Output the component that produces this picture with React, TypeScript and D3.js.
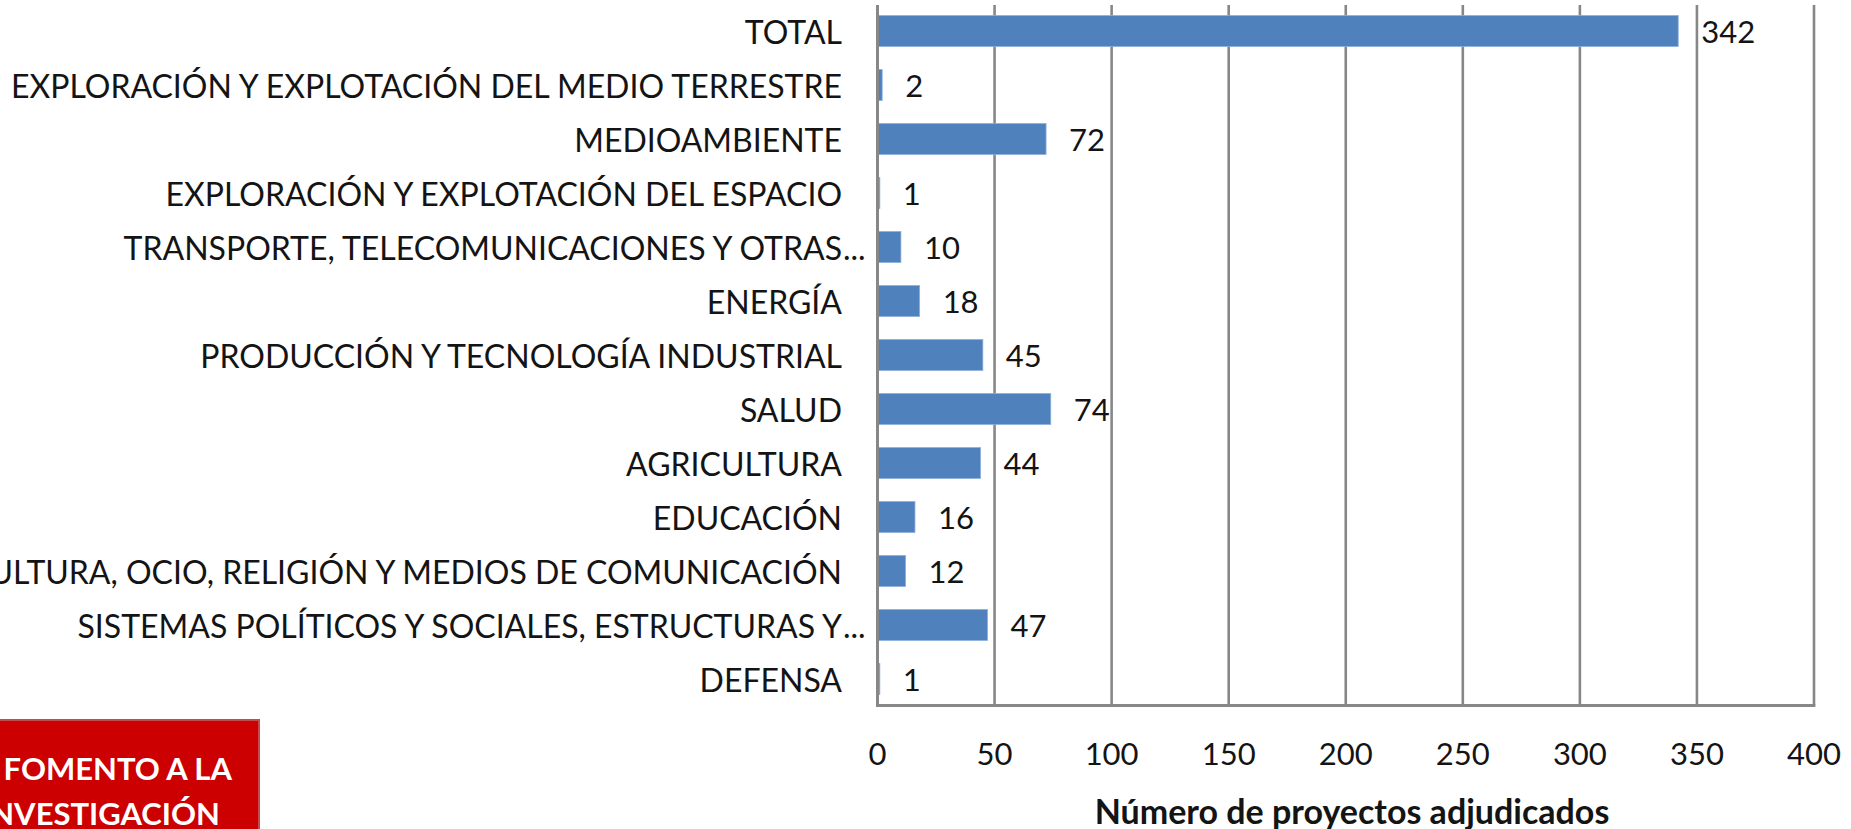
import React from "react";
import * as d3 from "d3";

const categories: string[] = [
  "TOTAL",
  "EXPLORACIÓN Y EXPLOTACIÓN DEL MEDIO TERRESTRE",
  "MEDIOAMBIENTE",
  "EXPLORACIÓN Y EXPLOTACIÓN DEL ESPACIO",
  "TRANSPORTE, TELECOMUNICACIONES Y OTRAS...",
  "ENERGÍA",
  "PRODUCCIÓN Y TECNOLOGÍA INDUSTRIAL",
  "SALUD",
  "AGRICULTURA",
  "EDUCACIÓN",
  "CULTURA, OCIO, RELIGIÓN Y MEDIOS DE COMUNICACIÓN",
  "SISTEMAS POLÍTICOS Y SOCIALES, ESTRUCTURAS Y...",
  "DEFENSA",
];
const values: number[] = [342, 2, 72, 1, 10, 18, 45, 74, 44, 16, 12, 47, 1];
const xTicks: number[] = [0, 50, 100, 150, 200, 250, 300, 350, 400];
const axisTitle = "Número de proyectos adjudicados";
const boxLines: string[] = ["FOMENTO A LA", "INVESTIGACIÓN"];

const W = 1851;
const H = 829;
const FONT = "Lato, 'Open Sans', sans-serif";

export default function App() {
  const x = d3.scaleLinear().domain([0, 400]).range([877.5, 1814]);
  const y = d3
    .scaleBand<string>()
    .domain(categories)
    .range([4, 706])
    .paddingInner(0.426)
    .paddingOuter(0.213);
  const labelRight = 842;
  const gridColor = "#878787";

  return (
    <svg
      width={W}
      height={H}
      style={{ position: "absolute", left: 0, top: 0, background: "#fff" }}
    >
      {/* gridlines */}
      {xTicks.slice(1).map((t) => (
        <line
          key={"g" + t}
          x1={x(t)}
          x2={x(t)}
          y1={5}
          y2={706}
          stroke={gridColor}
          strokeWidth={2.6}
        />
      ))}
      {/* bars */}
      {categories.map((c, i) => (
        <rect
          key={"b" + c}
          x={x(0)}
          y={y(c)}
          width={x(values[i]) - x(0)}
          height={y.bandwidth()}
          fill="#4f81bd"
          stroke="#8db0dc"
          strokeWidth={0.8}
        />
      ))}
      {/* axes */}
      <line x1={x(0)} x2={x(0)} y1={5} y2={707} stroke={gridColor} strokeWidth={3} />
      <line x1={x(0) - 1.5} x2={x(400) + 1.3} y1={705.5} y2={705.5} stroke={gridColor} strokeWidth={3} />
      {/* category labels */}
      {categories.map((c) => {
        const trunc = c.endsWith("...");
        const main = trunc ? c.slice(0, -3) : c;
        const cy = (y(c) as number) + y.bandwidth() / 2;
        return (
          <g key={"l" + c} fontFamily={FONT} fontSize={32} fill="#141414">
            <text x={labelRight} y={cy} textAnchor="end" dominantBaseline="central">
              {main}
            </text>
            {trunc && (
              <text x={labelRight + 1} y={cy} textAnchor="start" dominantBaseline="central">
                ...
              </text>
            )}
          </g>
        );
      })}
      {/* value labels */}
      {categories.map((c, i) => (
        <text
          key={"v" + c}
          x={x(values[i]) + 23}
          y={(y(c) as number) + y.bandwidth() / 2}
          fontFamily={FONT}
          fontSize={31}
          fill="#141414"
          dominantBaseline="central"
        >
          {values[i]}
        </text>
      ))}
      {/* tick labels */}
      {xTicks.map((t) => (
        <text
          key={"t" + t}
          x={x(t)}
          y={753}
          fontFamily={FONT}
          fontSize={31}
          fill="#141414"
          textAnchor="middle"
          dominantBaseline="central"
        >
          {t}
        </text>
      ))}
      {/* axis title */}
      <text
        x={1352}
        y={810}
        fontFamily={FONT}
        fontWeight="bold"
        fontSize={34}
        fill="#141414"
        textAnchor="middle"
        dominantBaseline="central"
      >
        {axisTitle}
      </text>
      {/* red box */}
      <rect x={-20} y={720} width={279} height={130} fill="#cc0000" stroke="#c94a4a" strokeWidth={2} />
      <text x={232} y={768} fontFamily={FONT} fontWeight="bold" fontSize={31} fill="#fff" textAnchor="end" dominantBaseline="central">
        {boxLines[0]}
      </text>
      <text x={220} y={813} fontFamily={FONT} fontWeight="bold" fontSize={31} fill="#fff" textAnchor="end" dominantBaseline="central">
        {boxLines[1]}
      </text>
    </svg>
  );
}
